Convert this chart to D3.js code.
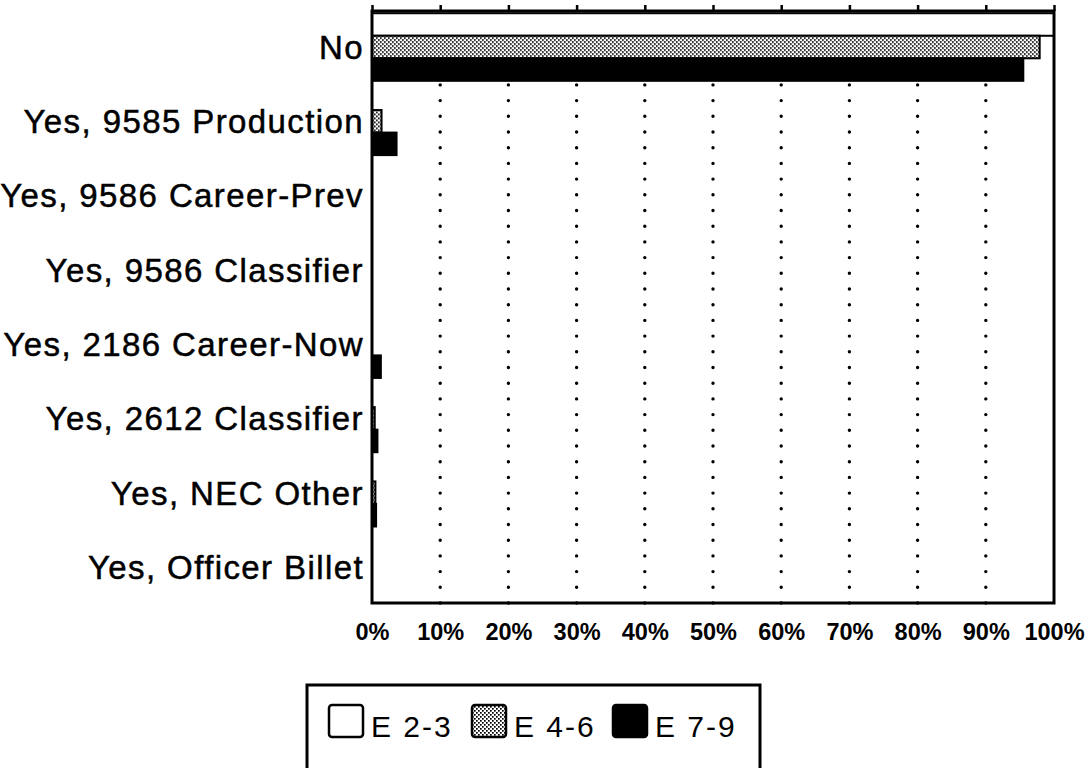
<!DOCTYPE html>
<html>
<head>
<meta charset="utf-8">
<script src="https://cdn.jsdelivr.net/npm/d3@7"></script>
<style>
  html, body { margin: 0; padding: 0; background: #fff; }
  svg { display: block; }
</style>
</head>
<body>
<svg id="chart" width="1092" height="768"></svg>
<script>
const categories = ["No", "Yes, 9585 Production", "Yes, 9586 Career-Prev", "Yes, 9586 Classifier",
  "Yes, 2186 Career-Now", "Yes, 2612 Classifier", "Yes, NEC Other", "Yes, Officer Billet"];
const seriesNames = ["E 2-3", "E 4-6", "E 7-9"];
const e23 = [100, 0, 0, 0, 0, 0, 0, 0];
const e46 = [97.9, 1.4, 0, 0, 0, 0.4, 0.5, 0];
const e79 = [95.5, 3.6, 0, 0, 1.3, 0.8, 0.6, 0];
const tickValues = [0, 10, 20, 30, 40, 50, 60, 70, 80, 90, 100];

const seriesValues = [e23, e46, e79];
const fills = ["#fff", "url(#stipple)", "#000"];
const font = "'Liberation Sans', Arial, Helvetica, sans-serif";

const svg = d3.select("#chart");
const pLeft = 372, pRight = 1054, pTop = 11, pBottom = 603;

const defs = svg.append("defs");
const pat = defs.append("pattern").attr("id", "stipple").attr("patternUnits", "userSpaceOnUse")
  .attr("width", 4).attr("height", 4);
pat.append("rect").attr("width", 4).attr("height", 4).attr("fill", "#fff");
pat.append("rect").attr("x", 0).attr("y", 0).attr("width", 1.7).attr("height", 1.7).attr("fill", "#000");
pat.append("rect").attr("x", 2).attr("y", 2).attr("width", 1.7).attr("height", 1.7).attr("fill", "#000");

const x = d3.scaleLinear().domain([0, 100]).range([pLeft, pRight]);
const y = d3.scaleBand().domain(categories).range([pTop, pBottom]).paddingInner(0.09).paddingOuter(0.03);
const ys = d3.scaleBand().domain(seriesNames).range([0, y.bandwidth()]);

// dotted gridlines
svg.append("g").selectAll("line").data(tickValues.filter(d => d > 0 && d < 100)).join("line")
  .attr("x1", d => x(d)).attr("x2", d => x(d))
  .attr("y1", pBottom).attr("y2", pTop)
  .attr("stroke", "#000").attr("stroke-width", 3.4).attr("stroke-linecap", "round")
  .attr("stroke-dasharray", "0,15.7");

// bars
const rows = categories.map((c, i) => ({ c, vals: seriesValues.map((s, k) => ({ s: seriesNames[k], v: s[i], k })) }));
const g = svg.append("g").selectAll("g").data(rows).join("g")
  .attr("transform", d => `translate(0,${y(d.c)})`);
g.selectAll("rect").data(d => d.vals.filter(v => v.v > 0)).join("rect")
  .attr("x", x(0))
  .attr("y", d => ys(d.s))
  .attr("width", d => x(d.v) - x(0))
  .attr("height", ys.bandwidth())
  .attr("fill", d => fills[d.k])
  .attr("stroke", "#000").attr("stroke-width", 2);

// frame
svg.append("rect").attr("x", pLeft).attr("y", pTop).attr("width", pRight - pLeft).attr("height", pBottom - pTop)
  .attr("fill", "none").attr("stroke", "#000").attr("stroke-width", 3);

// top ticks
const topAxis = svg.append("g").attr("transform", `translate(0,${pTop})`)
  .call(d3.axisTop(x).tickValues(tickValues).tickSize(6).tickFormat(""));
topAxis.select(".domain").remove();
topAxis.selectAll("line").attr("stroke", "#000").attr("stroke-width", 2.5);

// bottom axis labels
const bAxis = svg.append("g").attr("transform", `translate(0,${pBottom})`)
  .call(d3.axisBottom(x).tickValues(tickValues).tickSize(0).tickPadding(20).tickFormat(d => d + "%"));
bAxis.select(".domain").remove();
bAxis.selectAll("text").attr("font-family", font).attr("font-size", 23.5).attr("font-weight", "bold").attr("fill", "#000");

// category axis
const lAxis = svg.append("g").attr("transform", `translate(${pLeft},0)`)
  .call(d3.axisLeft(y).tickSize(0).tickPadding(8));
lAxis.select(".domain").remove();
lAxis.selectAll("text").attr("font-family", font).attr("font-size", 33).attr("fill", "#000")
  .attr("stroke", "#000").attr("stroke-width", 0.5)
  .attr("letter-spacing", "1.4px").attr("dy", "0.36em");

// legend
const lg = svg.append("g");
lg.append("rect").attr("x", 307).attr("y", 685).attr("width", 453).attr("height", 120)
  .attr("fill", "#fff").attr("stroke", "#000").attr("stroke-width", 3);
const legendX = [329, 472, 613];
seriesNames.forEach((s, k) => {
  lg.append("rect").attr("x", legendX[k]).attr("y", 705).attr("width", 34).attr("height", 32)
    .attr("rx", 3).attr("fill", fills[k]).attr("stroke", "#000").attr("stroke-width", 2.5);
  lg.append("text").attr("x", legendX[k] + 42).attr("y", 737).text(s)
    .attr("font-family", font).attr("font-size", 30).attr("fill", "#000").attr("letter-spacing", "2px");
});
</script>
</body>
</html>
